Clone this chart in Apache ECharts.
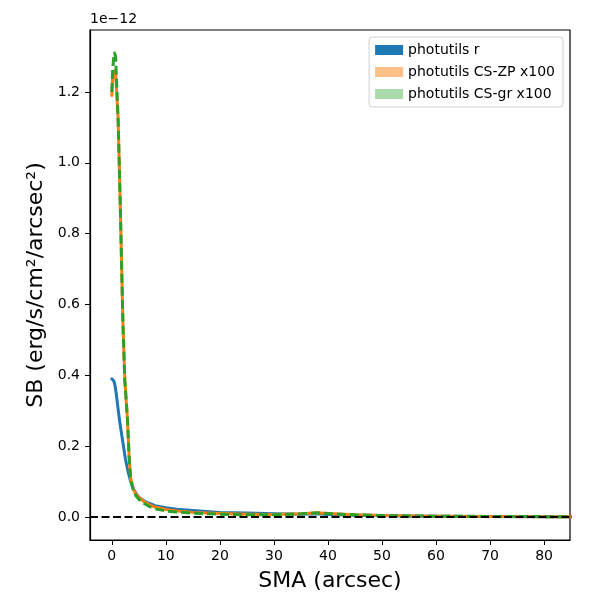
<!DOCTYPE html>
<html>
<head>
<meta charset="utf-8">
<script src="https://cdn.jsdelivr.net/npm/echarts@6/dist/echarts.min.js"></script>
<style>
    html, body { margin: 0; padding: 0; background: #fff; }
    #chart { width: 600px; height: 600px; }
</style>
</head>
<body>
<div id="chart"></div>
<script>
// 数据 (单位 1e-12)
var seriesNames = ['photutils r', 'photutils CS-ZP x100', 'photutils CS-gr x100']

var rX = [0, 0.2, 0.4, 0.6, 0.8, 1.0, 1.2, 1.5, 1.8, 2.1, 2.5, 3, 3.5, 4, 4.5, 5, 6, 7, 8, 10, 12, 15, 20, 25, 30, 35, 38, 40, 45, 50, 55, 60, 70, 80, 90]
var rY = [0.39, 0.389, 0.383, 0.37, 0.35, 0.325, 0.30, 0.265, 0.235, 0.205, 0.165, 0.128, 0.100, 0.079, 0.066, 0.056, 0.045, 0.038, 0.032, 0.026, 0.022, 0.018, 0.013, 0.011, 0.009, 0.008, 0.009, 0.007, 0.005, 0.004, 0.003, 0.002, 0.0015, 0.001, 0.001]

var zpX = [0, 0.15, 0.35, 0.5, 0.7, 0.9, 1.17, 1.54, 2.04, 2.4, 2.9, 3.2, 3.5, 4, 4.5, 5, 6, 7, 8, 10, 12, 15, 20, 25, 30, 35, 38, 40, 45, 50, 55, 60, 70, 80, 90]
var zpY = [1.19, 1.24, 1.25, 1.26, 1.25, 1.20, 1.12, 0.895, 0.556, 0.387, 0.274, 0.17, 0.11, 0.078, 0.064, 0.055, 0.043, 0.034, 0.028, 0.021, 0.017, 0.013, 0.010, 0.008, 0.007, 0.009, 0.012, 0.010, 0.006, 0.004, 0.003, 0.002, 0.0015, 0.001, 0.001]

var grX = [0, 0.15, 0.3, 0.5, 0.7, 0.9, 1.17, 1.54, 2.04, 2.4, 2.9, 3.2, 3.5, 4, 4.5, 5, 6, 7, 8, 10, 12, 15, 20, 25, 30, 35, 38, 40, 45, 50, 55, 60, 70, 80, 90]
var grY = [1.20, 1.26, 1.29, 1.31, 1.30, 1.22, 1.12, 0.895, 0.556, 0.387, 0.274, 0.17, 0.105, 0.074, 0.059, 0.050, 0.038, 0.029, 0.023, 0.017, 0.014, 0.011, 0.008, 0.006, 0.006, 0.009, 0.012, 0.010, 0.006, 0.004, 0.003, 0.002, 0.0015, 0.001, 0.001]

var xTicks = [0, 10, 20, 30, 40, 50, 60, 70, 80]
var yTicks = [0, 0.2, 0.4, 0.6, 0.8, 1.0, 1.2]

var colors = ['#1f77b4', '#ff7f0e', '#2ca02c']
var legendColors = ['#1f77b4', '#ffbf86', '#aad9aa']

function pairs (xs, ys) {
    return xs.map(function (x, i) { return [x, ys[i]] })
}

var font = 'DejaVu Sans'
var chart = echarts.init(document.getElementById('chart'))

chart.setOption({
    animation: false,
    textStyle: { fontFamily: font },
    grid: {
        left: 90, right: 30, top: 30, bottom: 60,
        show: true, borderColor: '#000', borderWidth: 1.2
    },
    legend: {
        orient: 'vertical',
        right: 37, top: 37,
        padding: [6, 8, 6, 6],
        itemGap: 8,
        itemWidth: 28, itemHeight: 10,
        borderColor: '#d0d0d0', borderWidth: 1, borderRadius: 3,
        backgroundColor: '#fff',
        textStyle: { fontSize: 14, color: '#000', fontFamily: font },
        data: seriesNames.map(function (n, i) {
            return { name: n, icon: 'rect', itemStyle: { color: legendColors[i], borderWidth: 0 } }
        })
    },
    graphic: [{
        type: 'text', left: 90, top: 12,
        style: { text: '1e\u221212', fontSize: 14, fontFamily: font, fill: '#000' }
    }],
    xAxis: {
        type: 'value',
        min: -4.04, max: 84.8,
        name: 'SMA (arcsec)',
        nameLocation: 'middle', nameGap: 30,
        nameTextStyle: { fontSize: 22, color: '#000', fontFamily: font },
        splitLine: { show: false },
        axisLine: { onZero: false, lineStyle: { color: '#000', width: 1.2 } },
        axisTick: { customValues: xTicks, length: 5, lineStyle: { color: '#000' } },
        axisLabel: { customValues: xTicks, margin: 9, fontSize: 14, color: '#000', fontFamily: font }
    },
    yAxis: {
        type: 'value',
        min: -0.065, max: 1.375,
        name: 'SB (erg/s/cm\u00b2/arcsec\u00b2)',
        nameLocation: 'middle', nameGap: 41,
        nameTextStyle: { fontSize: 22, color: '#000', fontFamily: font },
        splitLine: { show: false },
        axisLine: { onZero: false, lineStyle: { color: '#000', width: 1.2 } },
        axisTick: { customValues: yTicks, length: 5, lineStyle: { color: '#000' } },
        axisLabel: {
            customValues: yTicks, margin: 10, fontSize: 14, color: '#000', fontFamily: font,
            formatter: function (v) { return v.toFixed(1) }
        }
    },
    series: [
        {
            name: seriesNames[0], type: 'line', data: pairs(rX, rY),
            showSymbol: false, smooth: false, clip: true,
            color: colors[0], lineStyle: { width: 3, color: colors[0], join: 'round', cap: 'round' },
            markLine: {
                silent: true, symbol: 'none', label: { show: false },
                lineStyle: { color: '#000', type: [8, 3.5], width: 1.8 },
                data: [{ yAxis: 0 }]
            }
        },
        {
            name: seriesNames[1], type: 'line', data: pairs(zpX, zpY),
            showSymbol: false, smooth: false, clip: true,
            color: colors[1], lineStyle: { width: 3, color: colors[1], join: 'round', cap: 'round' }
        },
        {
            name: seriesNames[2], type: 'line', data: pairs(grX, grY),
            showSymbol: false, smooth: false, clip: true,
            color: colors[2], lineStyle: { width: 3, color: colors[2], type: [9, 4], join: 'round' }
        }
    ]
})
</script>
</body>
</html>
